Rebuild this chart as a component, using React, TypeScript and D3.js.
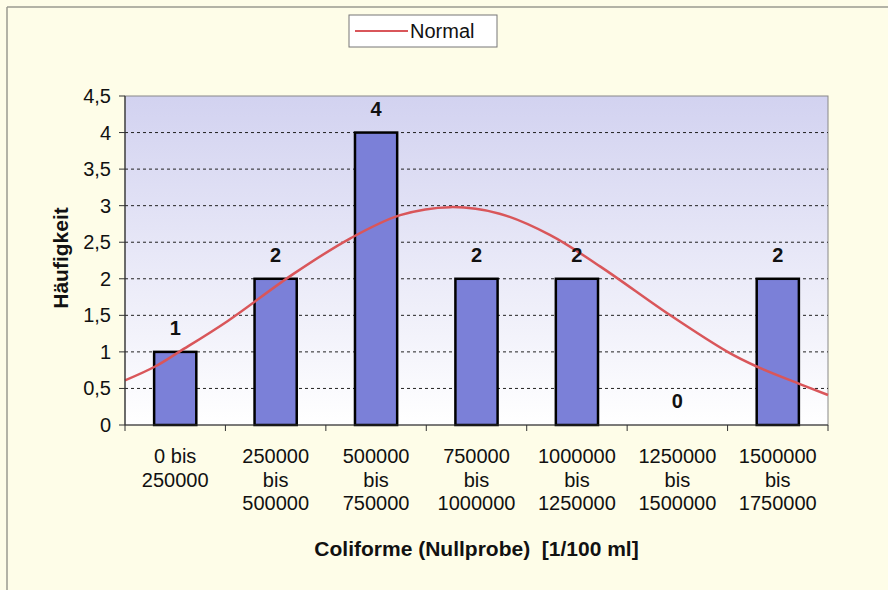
import React from "react";
import * as d3 from "d3";

const categories: string[][] = [
  ["0 bis", "250000"],
  ["250000", "bis", "500000"],
  ["500000", "bis", "750000"],
  ["750000", "bis", "1000000"],
  ["1000000", "bis", "1250000"],
  ["1250000", "bis", "1500000"],
  ["1500000", "bis", "1750000"],
];
const counts: number[] = [1, 2, 4, 2, 2, 0, 2];
// Normal curve: position in category units (0..7), value
const normalPos: number[] = [0, 0.3, 0.55, 1.02, 1.67, 2.24, 2.74, 3.24, 3.73, 4.23, 4.73, 5.43, 6.0, 6.29, 6.72, 7.0];
const normalVal: number[] = [0.61, 0.8, 1.01, 1.42, 2.06, 2.55, 2.87, 2.98, 2.89, 2.6, 2.17, 1.5, 1.0, 0.8, 0.56, 0.41];
const yTicks: number[] = [0, 0.5, 1, 1.5, 2, 2.5, 3, 3.5, 4, 4.5];
const yTickLabels: string[] = ["0", "0,5", "1", "1,5", "2", "2,5", "3", "3,5", "4", "4,5"];
const legendLabel = "Normal";
const yTitle = "Häufigkeit";
const xTitle = "Coliforme (Nullprobe)  [1/100 ml]";

const W = 888, H = 590;
const L = 125, R = 828, T = 96, B = 425;
const FONT = "Arial, 'Liberation Sans', Helvetica, sans-serif";

export default function App() {
  const x = d3.scaleBand<number>().domain(d3.range(categories.length)).range([L, R]).paddingInner(0.58).paddingOuter(0.29);
  const xc = d3.scaleLinear().domain([0, categories.length]).range([L, R]);
  const y = d3.scaleLinear().domain([0, 4.5]).range([B, T]);
  const line = d3
    .line<number>()
    .x((_, i) => xc(normalPos[i]))
    .y((v) => y(v))
    .curve(d3.curveCatmullRom.alpha(0.5));
  const band = (R - L) / categories.length;

  return (
    <svg width={W} height={H} style={{ position: "absolute", left: 0, top: 0 }} fontFamily={FONT}>
      <defs>
        <linearGradient id="plotbg" x1="0" y1="0" x2="0" y2="1">
          <stop offset="0%" stopColor="#d2d2f0" />
          <stop offset="100%" stopColor="#ffffff" />
        </linearGradient>
      </defs>
      <rect x={0} y={0} width={W} height={H} fill="#fefde8" />
      <line x1={7} y1={7} x2={W} y2={7} stroke="#9a9a90" strokeWidth={1.5} />
      <line x1={7} y1={7} x2={7} y2={H} stroke="#9a9a90" strokeWidth={1.5} />

      {/* legend */}
      <rect x={349} y={15} width={148} height={32} fill="#ffffff" stroke="#777" strokeWidth={1} />
      <line x1={355} y1={31} x2={408} y2={31} stroke="#d9565a" strokeWidth={2} />
      <text x={410} y={38} fontSize={20} fill="#111">{legendLabel}</text>

      {/* plot area */}
      <rect x={L} y={T} width={R - L} height={B - T} fill="url(#plotbg)" stroke="#888" strokeWidth={1} />
      {yTicks.slice(1, -1).map((t) => (
        <line key={t} x1={L} x2={R} y1={y(t)} y2={y(t)} stroke="#222" strokeWidth={1} strokeDasharray="3,3" />
      ))}

      {/* bars */}
      {counts.map((c, i) =>
        c > 0 ? (
          <rect key={i} x={x(i)!} y={y(c)} width={x.bandwidth()} height={B - y(c)} fill="#7b80d8" stroke="#000" strokeWidth={2.5} />
        ) : null
      )}

      {/* normal curve */}
      <path d={line(normalVal) || ""} fill="none" stroke="#d9565a" strokeWidth={2.5} />

      {/* value labels */}
      {counts.map((c, i) => (
        <text key={i} x={x(i)! + x.bandwidth() / 2} y={y(c) - 17} textAnchor="middle" fontSize={20} fontWeight="bold" fill="#111">
          {c}
        </text>
      ))}

      {/* axes */}
      <line x1={L} x2={L} y1={T} y2={B} stroke="#333" strokeWidth={1.2} />
      <line x1={L} x2={R} y1={B} y2={B} stroke="#333" strokeWidth={1.2} />
      {yTicks.map((t, i) => (
        <g key={t}>
          <line x1={L - 6} x2={L} y1={y(t)} y2={y(t)} stroke="#333" />
          <text x={L - 14} y={y(t) + 7} textAnchor="end" fontSize={20} fill="#111">{yTickLabels[i]}</text>
        </g>
      ))}
      {d3.range(categories.length + 1).map((i) => (
        <line key={i} x1={xc(i)} x2={xc(i)} y1={B} y2={B + 6} stroke="#333" />
      ))}
      {categories.map((lines, i) => (
        <text key={i} textAnchor="middle" fontSize={20} fill="#111">
          {lines.map((s, j) => (
            <tspan key={j} x={L + band * (i + 0.5)} y={463 + j * 23.5}>{s}</tspan>
          ))}
        </text>
      ))}

      <text x={(L + R) / 2} y={556} textAnchor="middle" fontSize={21} fontWeight="bold" fill="#111" style={{ whiteSpace: "pre" }}>
        {xTitle}
      </text>
      <text transform={`translate(68,258) rotate(-90)`} textAnchor="middle" fontSize={21} fontWeight="bold" fill="#111">
        {yTitle}
      </text>
    </svg>
  );
}
